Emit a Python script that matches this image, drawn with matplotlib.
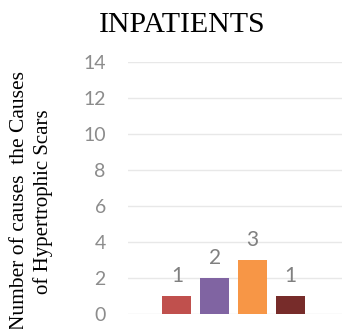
import matplotlib
matplotlib.use('Agg')
import matplotlib.pyplot as plt
import numpy as np

title = "INPATIENTS"
ylabel_lines = ["Number of causes  the Causes", "of Hypertrophic Scars"]
causes = ["A", "B", "C", "D"]
counts = [1, 2, 3, 1]
colors = ["#c0504d", "#8064a2", "#f79646", "#772c2a"]
yticks = [0, 2, 4, 6, 8, 10, 12, 14]

fig = plt.figure(figsize=(3.42, 3.29), dpi=100)
ax = fig.add_axes([128 / 342, 1 - 314 / 329, 214 / 342, 252 / 329])

x = np.arange(len(causes))
bars = ax.bar(x, counts, width=0.77, color=colors, zorder=3)
for b, v in zip(bars, counts):
    ax.text(b.get_x() + b.get_width() / 2, v + 0.55, str(v), ha='center', va='bottom',
            fontsize=15, color='#808080', family='Lato')

ax.set_xlim(-1.3, 4.38)
ax.set_ylim(0, 14)
ax.set_yticks(yticks)
ax.set_yticklabels([str(t) for t in yticks], fontsize=14, color='#8c8c8c', family='Lato')
ax.tick_params(axis='y', length=0, pad=16)
ax.set_xticks([])
ax.grid(axis='y', color='#e8e8e8', linewidth=1, zorder=0)
for s in ax.spines.values():
    s.set_visible(False)

fig.text(182 / 342, 1 - 25 / 329, title, ha='center', va='center', fontsize=21.5,
         family='Liberation Serif', color='black')
# two-line y axis caption, placed line by line
fig.text(20 / 342, 1 - 201 / 329, ylabel_lines[0], ha='center', va='center', rotation=90,
         fontsize=15.5, family='Liberation Serif', color='black')
fig.text(43 / 342, 1 - 202 / 329, ylabel_lines[1], ha='center', va='center', rotation=90,
         fontsize=15, family='Liberation Serif', color='black')

fig.savefig('out.png', dpi=100)
